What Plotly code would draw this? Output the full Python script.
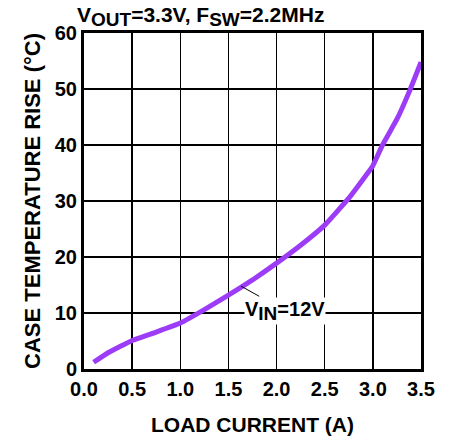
import plotly.graph_objects as go

load_current = [0.1, 0.25, 0.5, 0.75, 1.0, 1.25, 1.5, 1.75, 2.0, 2.25, 2.5, 2.75, 3.0, 3.1, 3.25, 3.375, 3.5]
temp_rise = [1.2, 2.9, 5.1, 6.6, 8.2, 10.6, 13.2, 15.9, 18.9, 22.1, 25.7, 30.5, 36.3, 40.0, 44.6, 49.4, 54.8]

x_ticks = [0.0, 0.5, 1.0, 1.5, 2.0, 2.5, 3.0, 3.5]
y_ticks = [0, 10, 20, 30, 40, 50, 60]

FONT = "Liberation Sans"
SUB = '<sub><span style="font-size:19px">{}</span></sub>'

fig = go.Figure()
fig.add_trace(go.Scatter(
    x=load_current, y=temp_rise, mode="lines",
    line=dict(color="#9D3CF7", width=5, shape="spline", smoothing=0.3),
    hoverinfo="skip", showlegend=False,
))

axis_common = dict(
    showgrid=True, gridcolor="black", gridwidth=1.5,
    showline=True, linecolor="black", linewidth=3, mirror=True,
    ticks="", zeroline=False, automargin=False,
    tickfont=dict(family=FONT, size=20, color="black", weight="bold"),
)

fig.update_layout(
    width=456, height=439,
    margin=dict(l=84, r=35, t=33, b=70),
    paper_bgcolor="white", plot_bgcolor="white",
    xaxis=dict(range=[0, 3.5], tickvals=x_ticks, ticktext=[f"{v:.1f}" for v in x_ticks],
               title=dict(text="LOAD CURRENT (A)", font=dict(family=FONT, size=21, color="black", weight="bold"), standoff=19),
               **axis_common),
    yaxis=dict(range=[0, 60], tickvals=y_ticks,
               title=dict(text="CASE TEMPERATURE RISE (°C)", font=dict(family=FONT, size=22, color="black", weight="bold"), standoff=9),
               **axis_common),
    annotations=[
        dict(x=0, y=1, xref="paper", yref="paper", xanchor="left", yanchor="top",
             xshift=-9, yshift=32,
             text="V" + SUB.format("OUT") + "=3.3V, F" + SUB.format("SW") + "=2.2MHz", showarrow=False,
             font=dict(family=FONT, size=21, color="black", weight="bold")),
        dict(x=1.63, y=14.8, xref="x", yref="y", ax=2.09, ay=10.4, axref="x", ayref="y",
             text="V" + SUB.format("IN") + "=12V", showarrow=True, arrowhead=0, arrowwidth=1, arrowcolor="black",
             standoff=0, startstandoff=2, bgcolor="white", borderpad=0,
             font=dict(family=FONT, size=20, color="black", weight="bold")),
    ],
)

fig.write_html("out.html", config={"displayModeBar": False, "staticPlot": True},
               post_script="document.body.style.margin='0';")
